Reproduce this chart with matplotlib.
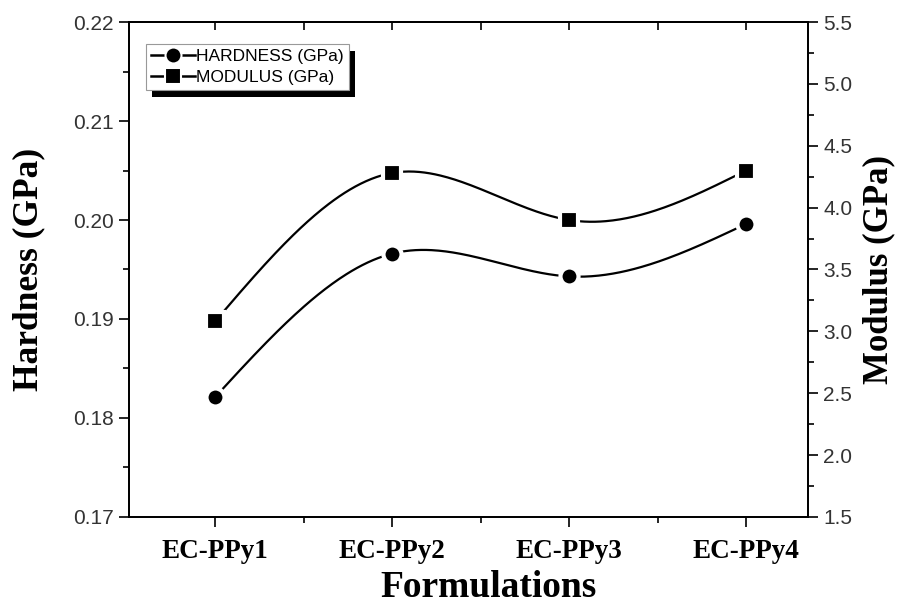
import numpy as np
import matplotlib.pyplot as plt
from matplotlib.patches import Rectangle
from matplotlib.transforms import IdentityTransform
from matplotlib.ticker import MultipleLocator, FormatStrFormatter

formulations = ["EC-PPy1", "EC-PPy2", "EC-PPy3", "EC-PPy4"]
hardness = [0.1821, 0.1966, 0.1943, 0.1996]   # GPa
modulus = [3.08, 4.28, 3.90, 4.30]             # GPa


def spline(xs, ys, n=300):
    """natural cubic spline through the points (like Origin's spline connect)"""
    xs = np.asarray(xs, float)
    ys = np.asarray(ys, float)
    k = len(xs)
    h = np.diff(xs)
    A = np.zeros((k, k))
    b = np.zeros(k)
    A[0, 0] = A[-1, -1] = 1
    for i in range(1, k - 1):
        A[i, i - 1] = h[i - 1]
        A[i, i] = 2 * (h[i - 1] + h[i])
        A[i, i + 1] = h[i]
        b[i] = 6 * ((ys[i + 1] - ys[i]) / h[i] - (ys[i] - ys[i - 1]) / h[i - 1])
    m = np.linalg.solve(A, b)
    xx = np.linspace(xs[0], xs[-1], n)
    idx = np.clip(np.searchsorted(xs, xx) - 1, 0, k - 2)
    x0, x1 = xs[idx], xs[idx + 1]
    hi = x1 - x0
    t0, t1 = x1 - xx, xx - x0
    yy = (m[idx] * t0 ** 3 + m[idx + 1] * t1 ** 3) / (6 * hi) \
        + (ys[idx] / hi - m[idx] * hi / 6) * t0 \
        + (ys[idx + 1] / hi - m[idx + 1] * hi / 6) * t1
    return xx, yy


x = np.arange(1, len(formulations) + 1)

fig = plt.figure(figsize=(9.13, 6.05), dpi=100)
ax = fig.add_axes([0.1413, 0.1455, 0.7437, 0.8181])
ax2 = ax.twinx()

sans = "Liberation Sans"
serif = "Liberation Serif"

# hardness (left axis)
xx, yy = spline(x, hardness)
ax.plot(xx, yy, color="black", lw=1.6, zorder=2)
ax.plot(x, hardness, ls="none", marker="o", ms=13, mfc="black", mec="white", mew=3, zorder=3)
# modulus (right axis)
xx, yy = spline(x, modulus)
ax2.plot(xx, yy, color="black", lw=1.6, zorder=2)
ax2.plot(x, modulus, ls="none", marker="s", ms=12.5, mfc="black", mec="white", mew=3, zorder=3)

# legend handles
h1, = ax2.plot([], [], color="black", lw=1.8, marker="o", ms=11.5, mfc="black", mec="white", mew=1.5)
h2, = ax2.plot([], [], color="black", lw=1.8, marker="s", ms=11, mfc="black", mec="white", mew=1.5)
leg = ax2.legend([h1, h2], ["HARDNESS (GPa)", "MODULUS (GPa)"], loc="upper left",
                 bbox_to_anchor=(0.025, 0.9556), borderaxespad=0,
                 prop={"family": sans, "size": 12.5},
                 handlelength=2.5, handletextpad=0.1, borderpad=0.3, labelspacing=0.3,
                 fancybox=False, framealpha=1, edgecolor="#999999")
leg.get_frame().set_linewidth(0.8)

ax.set_xlim(0.514, 4.35)
ax.set_ylim(0.17, 0.22)
ax2.set_ylim(1.5, 5.5)

ax.set_xticks(x)
ax.set_xticklabels(formulations, fontfamily=serif, fontweight="bold", fontsize=19.5)
ax.xaxis.set_minor_locator(MultipleLocator(0.5))
ax.yaxis.set_major_locator(MultipleLocator(0.01))
ax.yaxis.set_minor_locator(MultipleLocator(0.005))
ax.yaxis.set_major_formatter(FormatStrFormatter("%.2f"))
ax2.yaxis.set_major_locator(MultipleLocator(0.5))
ax2.yaxis.set_minor_locator(MultipleLocator(0.25))
ax2.yaxis.set_major_formatter(FormatStrFormatter("%.1f"))

for lab in ax.get_yticklabels() + ax2.get_yticklabels():
    lab.set_fontfamily(sans)
    lab.set_fontsize(15)
    lab.set_color("#333333")

ax.tick_params(axis="both", which="major", direction="out", length=7, width=1.2, pad=4)
ax.tick_params(axis="both", which="minor", direction="out", length=4, width=1.2)
ax.tick_params(axis="x", which="major", pad=9)
ax2.tick_params(axis="y", which="major", direction="out", length=7, width=1.2, pad=4)
ax2.tick_params(axis="y", which="minor", direction="out", length=4, width=1.2)

# ticks pointing inward on the top spine
top = ax.secondary_xaxis("top")
top.set_xticks(x)
top.xaxis.set_minor_locator(MultipleLocator(0.5))
top.tick_params(which="both", direction="in", length=6, width=1.2, labeltop=False)
top.spines["top"].set_linewidth(1.3)

for a in (ax, ax2):
    for s in a.spines.values():
        s.set_linewidth(1.3)

ax.set_xlabel("Formulations", fontfamily=serif, fontweight="bold", fontsize=27)
ax.xaxis.set_label_coords(0.529, -0.108)
ax.set_ylabel("Hardness (GPa)", fontfamily=serif, fontweight="bold", fontsize=25.5)
ax.yaxis.set_label_coords(-0.123, 0.5)
ax2.set_ylabel("Modulus (GPa)", fontfamily=serif, fontweight="bold", fontsize=25)
ax2.yaxis.set_label_coords(1.08, 0.5)

# solid black drop shadow behind the legend, offset down-right
fig.canvas.draw()
bb = leg.get_frame().get_window_extent()
shadow = Rectangle((bb.x0 + 6, bb.y0 - 7), bb.width, bb.height, transform=IdentityTransform(),
                   facecolor="black", edgecolor="none", zorder=4.9, clip_on=False)
ax2.add_artist(shadow)

fig.savefig("out.png", dpi=100)
